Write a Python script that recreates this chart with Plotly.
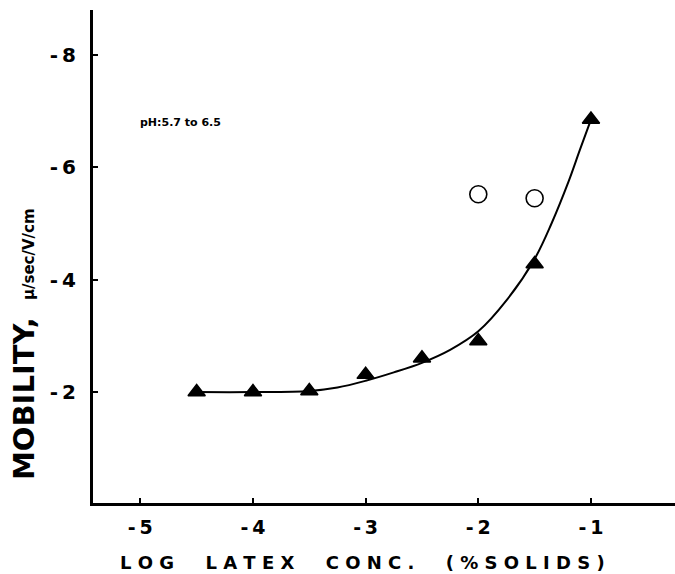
import plotly.graph_objects as go

# Measured data (triangles: latex alone)
tri_x = [-4.5, -4.0, -3.5, -3.0, -2.5, -2.0, -1.5, -1.0]
tri_y = [-2.0, -2.0, -2.02, -2.31, -2.60, -2.91, -4.28, -6.85]

# Open circles
circ_x = [-2.0, -1.5]
circ_y = [-5.52, -5.45]

# Hand-drawn smooth curve
fit_x = [-4.5, -4.0, -3.5, -3.25, -3.0, -2.75, -2.5, -2.25, -2.0, -1.75, -1.5, -1.35, -1.2, -1.1, -1.0]
fit_y = [-2.0, -2.0, -2.02, -2.08, -2.2, -2.35, -2.52, -2.75, -3.08, -3.63, -4.37, -5.0, -5.74, -6.3, -6.85]

x_ticks = [-5, -4, -3, -2, -1]
x_ticklabels = ["-5", "-4", "-3", "-2", "-1"]
y_ticks = [-8, -6, -4, -2]
y_ticklabels = ["-8", "-6", "-4", "-2"]

FONT = "DejaVu Sans"
nb = "\u00a0"
thin = "\u2009"

fig = go.Figure()
fig.add_trace(go.Scatter(x=fit_x, y=fit_y, mode="lines",
                         line=dict(color="black", width=2, shape="spline", smoothing=1.0),
                         hoverinfo="skip", showlegend=False))
fig.add_trace(go.Scatter(x=tri_x, y=tri_y, mode="markers",
                         marker=dict(symbol="triangle-up", size=15, color="black",
                                     line=dict(color="black", width=1.5)),
                         showlegend=False))
fig.add_trace(go.Scatter(x=circ_x, y=circ_y, mode="markers",
                         marker=dict(symbol="circle-open", size=17, color="black",
                                     line=dict(color="black", width=1.6)),
                         showlegend=False))

fig.update_layout(
    width=675, height=574,
    margin=dict(l=93, r=0, t=10, b=71),
    paper_bgcolor="white", plot_bgcolor="white",
    font=dict(family=FONT, color="black"),
    xaxis=dict(range=[-5.42, -0.254], showgrid=False, zeroline=False,
               showline=True, linecolor="black", linewidth=3,
               ticks="inside", ticklen=5, tickwidth=1.5, tickcolor="black",
               tickvals=x_ticks, ticktext=["<b>" + t.replace("-", "-" + thin) + "</b>" for t in x_ticklabels],
               tickfont=dict(family=FONT, size=19, color="black"),
               ticklabelstandoff=5),
    yaxis=dict(range=[-0.025, -8.8], showgrid=False, zeroline=False,
               showline=True, linecolor="black", linewidth=3,
               ticks="inside", ticklen=5, tickwidth=1.5, tickcolor="black",
               tickvals=y_ticks, ticktext=["<b>" + t.replace("-", "-" + thin) + "</b>" for t in y_ticklabels],
               tickfont=dict(family=FONT, size=20, color="black"),
               ticklabelstandoff=10),
)

xtitle = (nb * 2).join(["LOG", "LATEX", "CONC.", "(%SOLIDS)"])
xtitle = nb.join(list(xtitle))
fig.add_annotation(text="<b>" + xtitle + "</b>", xref="paper", yref="paper",
                   x=(362 - 93) / 582, y=-(562 - 503) / 493, xanchor="center", yanchor="middle",
                   showarrow=False, font=dict(family=FONT, size=18, color="black"))

fig.add_annotation(text="<b>MOBILITY,</b>", xref="paper", yref="paper",
                   x=-(93 - 24) / 582, y=(503 - 399) / 493, xanchor="center", yanchor="middle",
                   textangle=-90, showarrow=False,
                   font=dict(family=FONT, size=29, color="black"))
fig.add_annotation(text="<b>\u00b5/sec/V/cm</b>", xref="paper", yref="paper",
                   x=-(93 - 29) / 582, y=(503 - 254) / 493, xanchor="center", yanchor="middle",
                   textangle=-90, showarrow=False,
                   font=dict(family=FONT, size=15, color="black"))

fig.add_annotation(text="<b>pH:5.7 to 6.5</b>", xref="paper", yref="paper",
                   x=(138 - 93) / 582, y=(503 - 123) / 493, xanchor="left", yanchor="middle",
                   showarrow=False, font=dict(family=FONT, size=11, color="black"))

fig.write_html("out.html")
